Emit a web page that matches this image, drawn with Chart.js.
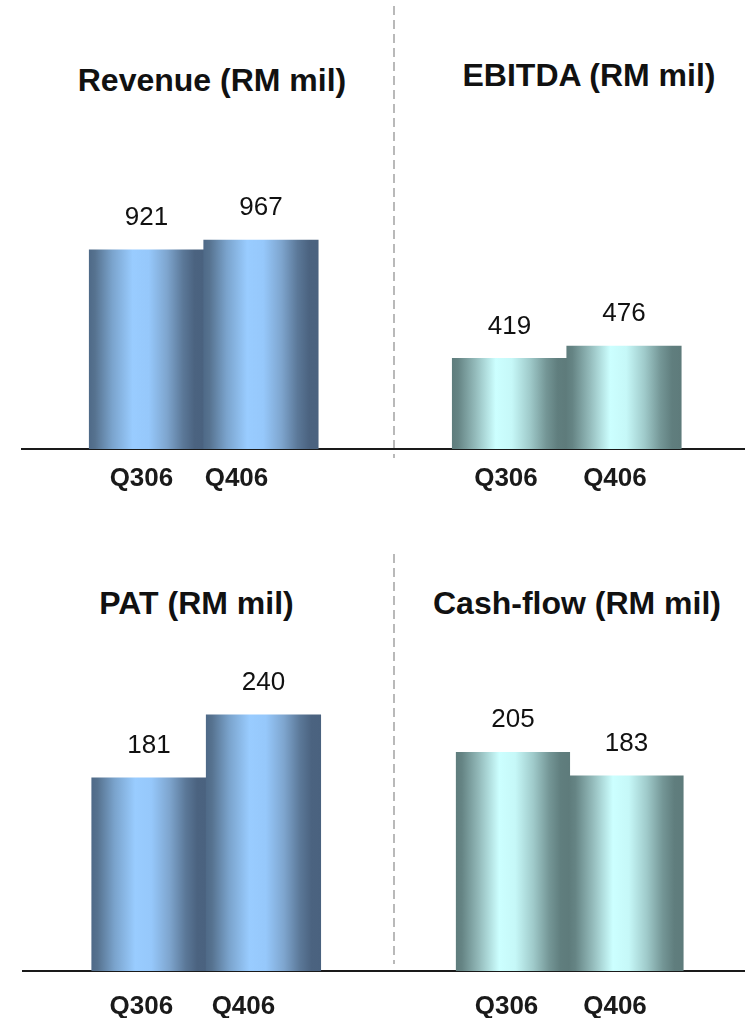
<!DOCTYPE html>
<html>
<head>
<meta charset="utf-8">
<title>Quarterly results</title>
<script src="https://cdn.jsdelivr.net/npm/chart.js@4.4.1/dist/chart.umd.min.js"></script>
<style>
  html, body { margin: 0; padding: 0; background: #ffffff; }
  #page {
    position: relative; width: 745px; height: 1018px; overflow: hidden;
    font-family: "Liberation Sans", Arial, Helvetica, sans-serif;
  }
  .panel { position: absolute; }
  .panel canvas { display: block; }
  .title {
    position: absolute; white-space: nowrap; transform: translateX(-50%);
    font-weight: bold; font-size: 32px; line-height: 32px; color: #111111;
  }
  .divider {
    position: absolute; left: 393px; width: 2px;
    background: repeating-linear-gradient(to bottom, #b9b9b9 0 9px, transparent 9px 14px);
  }
</style>
</head>
<body>
<div id="page">
  <div class="divider" style="top:6px;height:452px"></div>
  <div class="divider" style="top:554px;height:410px"></div>
</div>

<script>
// Quarterly figures, RM million
const quarters = ['Q306', 'Q406'];
const revenue  = [921, 967];
const ebitda   = [419, 476];
const pat      = [181, 240];
const cashFlow = [205, 183];

// Metallic shading across each bar: dark edges, bright middle
const blueShade = [
  [0.00, '#4f6a88'], [0.05, '#56728f'], [0.20, '#7aa3cc'], [0.38, '#99ccff'],
  [0.52, '#96c8fb'], [0.68, '#7ea5ce'], [0.82, '#5b7898'], [0.92, '#4b6380'], [1.00, '#4a627f']
];
const tealShade = [
  [0.00, '#5f7d7d'], [0.05, '#658484'], [0.20, '#93baba'], [0.38, '#ccffff'],
  [0.52, '#c6f8f8'], [0.68, '#9fcaca'], [0.82, '#749696'], [0.92, '#607e7e'], [1.00, '#5e7b7b']
];

// Panel layout: canvas box on the page, value range of the x axis,
// where the quarter captions sit, and vertical scale of each chart
const panels = [
  { title: 'Revenue (RM mil)', values: revenue, shade: blueShade,
    box: { left: 21, top: 0, width: 373, height: 509 }, xRange: [-1.096, 2.162],
    captionAt: [-0.044, 0.786], yMax: 2077, axisHeight: 60, captionPad: 14.4, titleAt: [212, 64] },
  { title: 'EBITDA (RM mil)', values: ebitda, shade: tealShade,
    box: { left: 394, top: 0, width: 351, height: 509 }, xRange: [-1.009, 2.057],
    captionAt: [-0.031, 0.921], yMax: 2077, axisHeight: 60, captionPad: 14.4, titleAt: [589, 59] },
  { title: 'PAT (RM mil)', values: pat, shade: blueShade,
    box: { left: 22, top: 509, width: 372, height: 509 }, xRange: [-1.109, 2.140],
    captionAt: [-0.066, 0.825], yMax: 433, axisHeight: 47, captionPad: 20.4, titleAt: [196.5, 587] },
  { title: 'Cash-flow (RM mil)', values: cashFlow, shade: tealShade,
    box: { left: 394, top: 509, width: 351, height: 509 }, xRange: [-1.048, 2.044],
    captionAt: [-0.057, 0.899], yMax: 433, axisHeight: 47, captionPad: 20.4, titleAt: [577, 587] }
];

const FONT = '"Liberation Sans", Arial, Helvetica, sans-serif';
Chart.defaults.font.family = FONT;

// Writes each bar's value above its top
const valueLabels = {
  id: 'valueLabels',
  afterDatasetsDraw(chart) {
    const ctx = chart.ctx;
    const ds = chart.data.datasets[0];
    const meta = chart.getDatasetMeta(0);
    ctx.save();
    ctx.font = '26px ' + FONT;
    ctx.fillStyle = '#111111';
    ctx.textAlign = 'center';
    ctx.textBaseline = 'middle';
    meta.data.forEach((bar, i) => {
      ctx.fillText(String(ds.data[i].y), bar.x, bar.y - 32);
    });
    ctx.restore();
  }
};

function barShade(shade) {
  return (context) => {
    const chart = context.chart;
    if (!chart.chartArea) return shade[3][1];
    const xs = chart.scales.x;
    const center = xs.getPixelForValue(context.dataIndex);
    const half = (xs.getPixelForValue(1) - xs.getPixelForValue(0)) / 2;
    const g = chart.ctx.createLinearGradient(center - half, 0, center + half, 0);
    shade.forEach(([stop, color]) => g.addColorStop(stop, color));
    return g;
  };
}

const page = document.getElementById('page');

panels.forEach((p) => {
  const title = document.createElement('div');
  title.className = 'title';
  title.textContent = p.title;
  title.style.left = p.titleAt[0] + 'px';
  title.style.top = p.titleAt[1] + 'px';
  page.appendChild(title);

  const holder = document.createElement('div');
  holder.className = 'panel';
  holder.style.left = p.box.left + 'px';
  holder.style.top = p.box.top + 'px';
  holder.style.width = p.box.width + 'px';
  holder.style.height = p.box.height + 'px';
  const canvas = document.createElement('canvas');
  canvas.width = p.box.width;
  canvas.height = p.box.height;
  holder.appendChild(canvas);
  page.appendChild(holder);

  new Chart(canvas, {
    type: 'bar',
    data: {
      datasets: [{
        data: p.values.map((v, i) => ({ x: i, y: v })),
        backgroundColor: barShade(p.shade),
        borderWidth: 0,
        barPercentage: 1,
        categoryPercentage: 1
      }]
    },
    options: {
      responsive: false,
      animation: false,
      devicePixelRatio: 1,
      layout: { padding: 0 },
      plugins: { legend: { display: false }, tooltip: { enabled: false }, title: { display: false } },
      scales: {
        x: {
          type: 'linear', display: false, offset: false,
          min: p.xRange[0], max: p.xRange[1],
          afterBuildTicks: (scale) => { scale.ticks = p.values.map((v, i) => ({ value: i })); }
        },
        quarter: {
          type: 'linear', position: 'bottom', axis: 'x', offset: false,
          min: p.xRange[0], max: p.xRange[1],
          grid: { display: false, drawTicks: false, offset: false },
          border: { display: true, color: '#1a1a1a', width: 2 },
          afterBuildTicks: (scale) => { scale.ticks = p.captionAt.map((v) => ({ value: v })); },
          afterFit: (scale) => { scale.height = p.axisHeight; },
          ticks: {
            autoSkip: false, maxRotation: 0, minRotation: 0,
            padding: p.captionPad,
            color: '#1a1a1a',
            font: { size: 26, weight: 'bold' },
            callback: (value, index) => quarters[index]
          }
        },
        y: { display: false, min: 0, max: p.yMax }
      }
    },
    plugins: [valueLabels]
  });
});
</script>
</body>
</html>
